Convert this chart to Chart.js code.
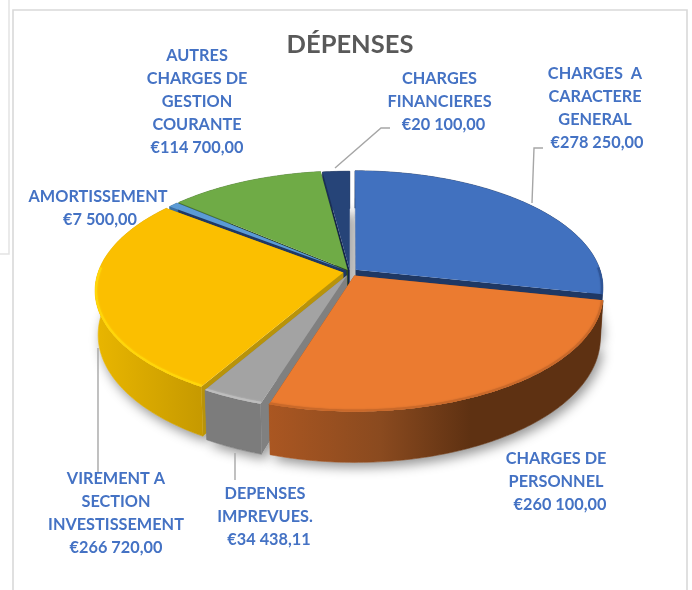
<!DOCTYPE html>
<html lang="fr">
<head>
<meta charset="utf-8">
<title>DÉPENSES</title>
<script src="https://cdn.jsdelivr.net/npm/chart.js@4"></script>
<style>html,body{margin:0;padding:0;background:#fff}canvas{display:block}</style>
</head>
<body>
<canvas id="c" width="692" height="590"></canvas>
<script>
const categories = ["CHARGES  A CARACTERE GENERAL","CHARGES DE PERSONNEL","DEPENSES IMPREVUES.","VIREMENT A SECTION INVESTISSEMENT","AMORTISSEMENT","AUTRES CHARGES DE GESTION COURANTE","CHARGES FINANCIERES"];
const values = [278250,260100,34438.11,266720,7500,114700,20100];
const valueLabels = ["€278 250,00","€260 100,00","€34 438,11","€266 720,00","€7 500,00","€114 700,00","€20 100,00"];
const labelLines = [
  ["CHARGES  A","CARACTERE","GENERAL"],
  ["CHARGES DE","PERSONNEL"],
  ["DEPENSES","IMPREVUES."],
  ["VIREMENT A","SECTION","INVESTISSEMENT"],
  ["AMORTISSEMENT"],
  ["AUTRES","CHARGES DE","GESTION","COURANTE"],
  ["CHARGES","FINANCIERES"]
];
const topColors = ["#4171BF","#EB7B30","#A3A3A3","#FBBF00","#5B9BD5","#6FAB46","#264478"];
const cutColors = ["#1F3864","#8A4A1F","#808080","#B8930A","#1F3864","#2F4A20","#14264A"];
const rimStops = [
  [[0,"#1F3864"],[1,"#1F3864"]],
  [[0.37,"#AE5822"],[0.55,"#8A4A1F"],[0.68,"#5E3112"],[1,"#5E3112"]],
  [[0.28,"#7C7C7C"],[0.38,"#7C7C7C"]],
  [[0.12,"#EDB900"],[0.3,"#C49800"]],
  [[0,"#3B6EA0"],[1,"#3B6EA0"]],
  [[0,"#4A7530"],[1,"#4A7530"]],
  [[0,"#1A2F55"],[1,"#1A2F55"]]
];
const bevelColors = ["#2F5597","#C9692A","#BDBDBD","#FFD60A",null,null,null];
const drawOrder = [6,5,4,0,3,2,1];
const explode = [0.03,0.035,0.03,0.028,0.02,0.02,0.014];
const labelPlacement = [
  {x:595,y:73.5,vx:597},{x:556,y:458.5,vx:560},{x:265,y:493.5,vx:269},{x:116,y:478.5,vx:116},
  {x:98,y:196.5,vx:100},{x:197,y:55.5,vx:197},{x:439.5,y:78.5,vx:443.5}
];
const leaders = [
  [[532,203],[534,148],[543,148]],
  [[98,348],[98,472]],
  [[235,453],[235,480]],
  [[335,168],[381,128],[390,128]]
];
const G = {cx:350,cy:272,A:245,B:114.5,k:0.15,d:43,shrink:0.012};
const LABEL_COLOR = "#4472C4", LEADER_COLOR = "#A6A6A6", FRAME_COLOR = "#D9D9D9";

function project(u,v,z){
  const w = 1 - G.k*v;
  return [G.cx + G.A*u/w*(1 - z*G.shrink), G.cy + (G.B*v + G.d*z)/w];
}
function outline(arc,i){
  const pts = [], mid = (arc.startAngle+arc.endAngle)/2;
  const ox = explode[i]*Math.cos(mid), oy = explode[i]*Math.sin(mid);
  const n = Math.max(6,Math.ceil((arc.endAngle-arc.startAngle)*60));
  for(let j=0;j<=n;j++){
    const a = arc.startAngle+(arc.endAngle-arc.startAngle)*j/n;
    pts.push([Math.cos(a)+ox,Math.sin(a)+oy]);
  }
  return {pts,apex:[ox,oy]};
}
function poly(ctx,p){
  ctx.beginPath();
  p.forEach((q,i)=> i?ctx.lineTo(q[0],q[1]):ctx.moveTo(q[0],q[1]));
  ctx.closePath();
}
const pie3d = {
  id:"pie3d",
  beforeDraw(chart){
    const c = chart.ctx;
    c.save();
    c.fillStyle="#fff"; c.fillRect(0,0,692,590);
    c.strokeStyle="#E3E3E3"; c.lineWidth=1.5;
    c.beginPath(); c.moveTo(9,0); c.lineTo(9,254); c.lineTo(0,254); c.stroke();
    c.fillStyle="#fff"; c.fillRect(13,10,674,580);
    c.strokeStyle=FRAME_COLOR; c.lineWidth=1.6;
    c.beginPath(); c.moveTo(13,590); c.lineTo(13,10); c.lineTo(687,10); c.lineTo(687,590); c.stroke();
    c.restore();
  },
  beforeDatasetsDraw(chart){
    const c = chart.ctx, arcs = chart.getDatasetMeta(0).data;
    c.save();
    c.save();
    c.shadowColor="rgba(0,0,0,0.42)"; c.shadowBlur=12; c.shadowOffsetX=3; c.shadowOffsetY=5;
    c.fillStyle="#fff";
    arcs.forEach((arc,i)=>{
      const o=outline(arc,i);
      poly(c,[project(o.apex[0],o.apex[1],1),...o.pts.map(p=>project(p[0],p[1],1))]);
      c.fill();
    });
    c.restore();
    drawOrder.forEach(i=>{
      const arc=arcs[i], o=outline(arc,i);
      const ap0=project(o.apex[0],o.apex[1],0), ap1=project(o.apex[0],o.apex[1],1);
      const top=o.pts.map(p=>project(p[0],p[1],0)), bot=o.pts.map(p=>project(p[0],p[1],1));
      c.fillStyle=cutColors[i];
      [[0],[top.length-1]].forEach(([e])=>{
        poly(c,[ap0,top[e],bot[e],ap1]); c.fill();
      });
      const g=c.createLinearGradient(0,0,692,0);
      rimStops[i].forEach(s=>g.addColorStop(s[0],s[1]));
      c.fillStyle=g; c.strokeStyle=g; c.lineWidth=0.6;
      poly(c,[...top,...bot.slice().reverse()]); c.fill(); c.stroke();
      c.fillStyle=topColors[i];
      poly(c,[ap0,...top]); c.fill();
      if(bevelColors[i]){
        const front=top.filter((p,j)=>o.pts[j][1]>-0.05);
        if(front.length>1){
          c.save();
          poly(c,[ap0,...top]); c.clip();
          c.strokeStyle=bevelColors[i]; c.lineWidth=4; c.lineJoin="round";
          c.shadowColor=bevelColors[i]; c.shadowBlur=2;
          c.beginPath();
          front.forEach((p,j)=> j?c.lineTo(p[0],p[1]):c.moveTo(p[0],p[1]));
          c.stroke();
          c.restore();
        }
      }
    });
    c.restore();
    return false;
  },
  afterDraw(chart){
    const c=chart.ctx;
    c.save();
    c.strokeStyle=LEADER_COLOR; c.lineWidth=1.4;
    leaders.forEach(l=>{
      c.beginPath();
      l.forEach((p,i)=> i?c.lineTo(p[0],p[1]):c.moveTo(p[0],p[1]));
      c.stroke();
    });
    c.font="bold 16.3px Lato, 'Open Sans', sans-serif";
    c.fillStyle=LABEL_COLOR; c.textAlign="center"; c.textBaseline="middle";
    const LH=23;
    labelLines.forEach((lines,i)=>{
      const pl=labelPlacement[i];
      lines.forEach((t,j)=>c.fillText(t,pl.x,pl.y+j*LH));
      c.fillText(valueLabels[i],pl.vx,pl.y+lines.length*LH);
    });
    c.restore();
  }
};
new Chart(document.getElementById("c"),{
  type:"pie",
  data:{labels:categories,datasets:[{data:values,backgroundColor:topColors,borderWidth:0}]},
  plugins:[pie3d],
  options:{
    responsive:false,animation:false,
    layout:{padding:{left:8}},
    plugins:{
      legend:{display:false},tooltip:{enabled:false},
      title:{display:true,text:"DÉPENSES",color:"#595959",
        font:{family:"Lato, 'Open Sans', sans-serif",size:25.5,weight:"bold"},
        padding:{top:29,bottom:10}}
    }
  }
});
</script>
</body>
</html>
